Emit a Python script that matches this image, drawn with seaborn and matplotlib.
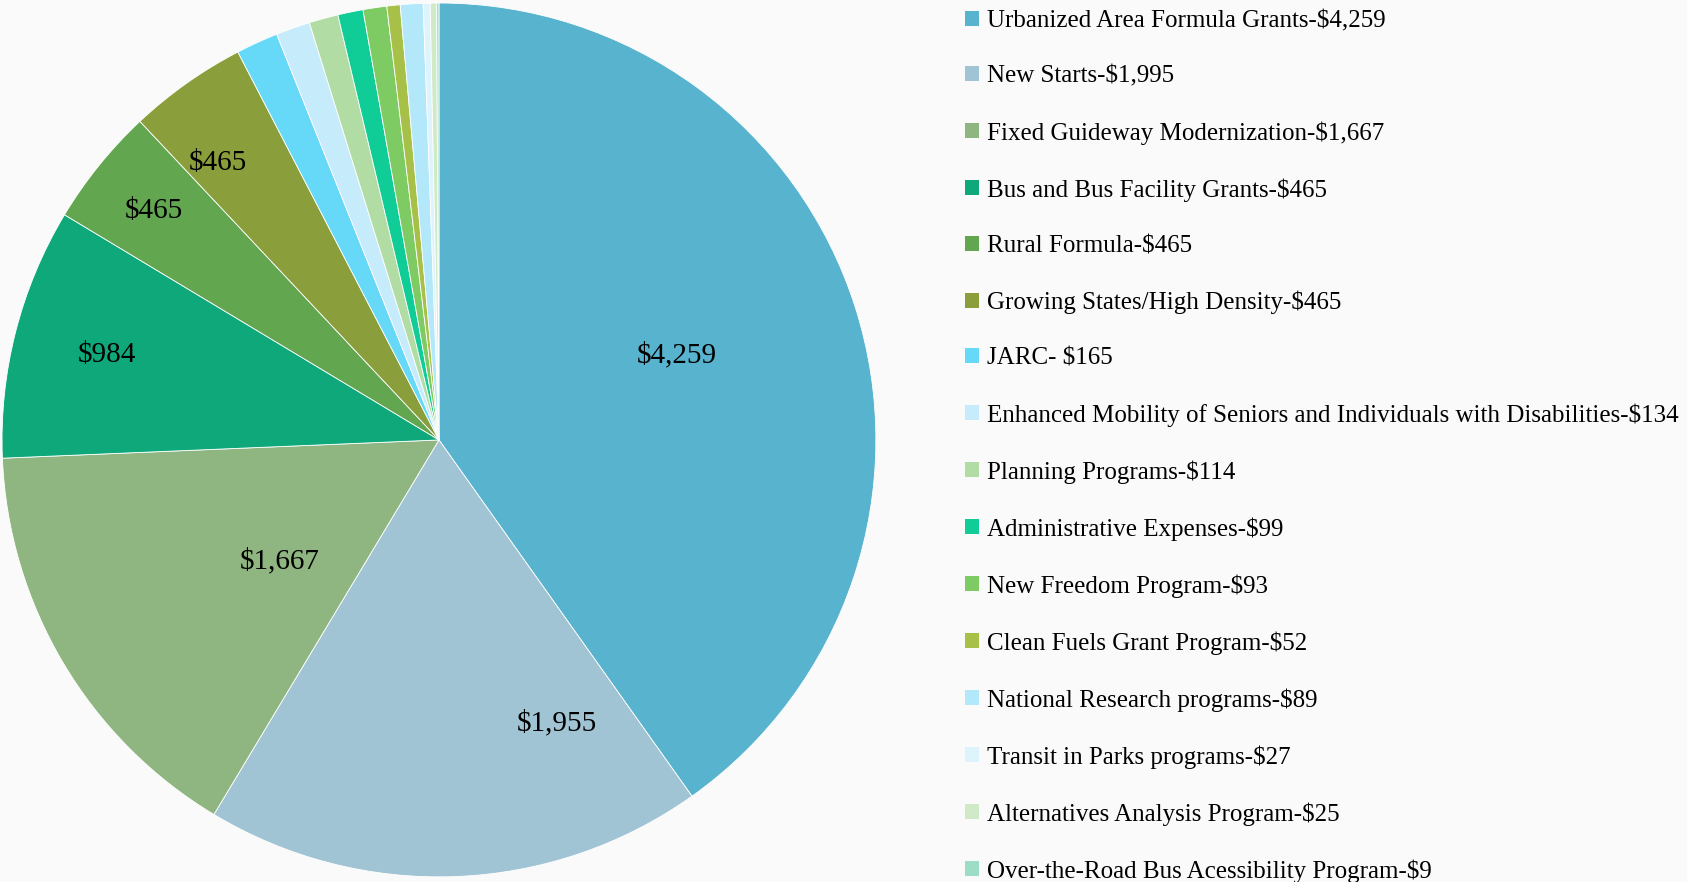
import matplotlib
matplotlib.use("Agg")
import matplotlib.pyplot as plt
import matplotlib.patches as mpatches
import seaborn as sns

# ---- data ----
categories = [
    "Urbanized Area Formula Grants-$4,259",
    "New Starts-$1,995",
    "Fixed Guideway Modernization-$1,667",
    "Bus and Bus Facility Grants-$465",
    "Rural Formula-$465",
    "Growing States/High Density-$465",
    "JARC- $165",
    "Enhanced Mobility of Seniors and Individuals with Disabilities-$134",
    "Planning Programs-$114",
    "Administrative Expenses-$99",
    "New Freedom Program-$93",
    "Clean Fuels Grant Program-$52",
    "National Research programs-$89",
    "Transit in Parks programs-$27",
    "Alternatives Analysis Program-$25",
    "Over-the-Road Bus Acessibility Program-$9",
]
values = [4259, 1955, 1667, 984, 465, 465, 165, 134, 114, 99, 93, 52, 89, 27, 25, 9]
slice_labels = ["$4,259", "$1,955", "$1,667", "$984", "$465", "$465"]
colors = ["#57B3CE", "#A1C4D4", "#8FB580", "#0FA87A", "#62A650", "#8A9E3B",
          "#66D9F8", "#C6ECFC", "#B1DDA4", "#10CC96", "#7FCB63", "#A7C148",
          "#B3E8FA", "#DDF4FD", "#D0EAC8", "#9DDDC5"]
# label placement (fraction of radius, in axes data units)
label_pos = [(0.544, 0.195), (0.271, -0.648), (-0.365, -0.278),
             (-0.759, 0.195), (-0.653, 0.525), (-0.505, 0.633)]

sns.set_theme(style="white")
plt.rcParams["font.family"] = ["Liberation Serif", "DejaVu Serif"]

bg = "#FAFAFA"
fig = plt.figure(figsize=(16.87, 8.82), dpi=100, facecolor=bg)
ax = fig.add_axes([0.0012, 0.0057, 0.518, 0.991])
ax.set_facecolor(bg)

wedges, _ = ax.pie(values, colors=colors, startangle=90, counterclock=False,
                   wedgeprops=dict(edgecolor="white", linewidth=0.6))
ax.set_aspect("equal")
ax.set_xlim(-1.0, 1.0)
ax.set_ylim(-1.0, 1.0)
ax.axis("off")

for txt, (x, y) in zip(slice_labels, label_pos):
    ax.text(x, y, txt, ha="center", va="center", fontsize=21, color="black")

handles = [mpatches.Patch(facecolor=c, edgecolor="none") for c in colors]
leg = fig.legend(handles, categories, loc="upper left",
                 bbox_to_anchor=(0.566, 1.0), frameon=False,
                 fontsize=18, handlelength=0.55, handleheight=0.55,
                 handletextpad=0.35, labelspacing=1.34, borderaxespad=0,
                 labelcolor="black")

fig.savefig("out.png", dpi=100, facecolor=bg)
